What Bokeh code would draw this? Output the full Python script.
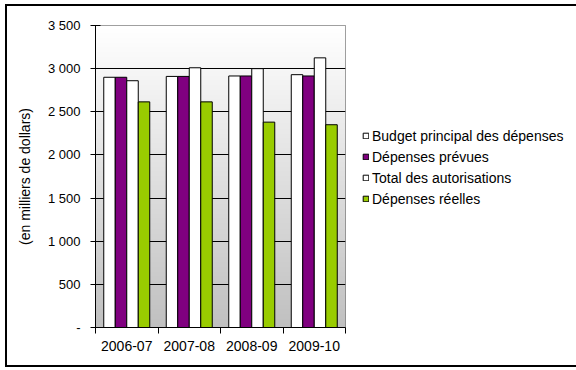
import numpy as np
from bokeh.plotting import figure
from bokeh.models import Range1d, FixedTicker, Legend, LegendItem, ColumnDataSource
from bokeh.transform import dodge
from bokeh.embed import file_html
from bokeh.resources import INLINE

categories = ["2006-07", "2007-08", "2008-09", "2009-10"]
budget_principal = [2900, 2910, 2915, 2930]
depenses_prevues = [2900, 2910, 2915, 2915]
total_autorisations = [2860, 3010, 3000, 3125]
depenses_reelles = [2615, 2615, 2380, 2350]
series_names = ["Budget principal des dépenses", "Dépenses prévues",
                "Total des autorisations", "Dépenses réelles"]
series_colors = ["#FFFFFF", "#800080", "#FFFFFF", "#99CC00"]
y_ticks = [0, 500, 1000, 1500, 2000, 2500, 3000, 3500]
y_tick_labels = ["-", "500", "1 000", "1 500", "2 000", "2 500", "3 000", "3 500"]
y_label = "(en milliers de dollars)"

FONT = "Liberation Sans"

x_centers = [i + 0.5 for i in range(len(categories))]
source = ColumnDataSource(dict(
    x=x_centers,
    s0=budget_principal,
    s1=depenses_prevues,
    s2=total_autorisations,
    s3=depenses_reelles,
))

p = figure(width=570, height=363, output_backend="svg", toolbar_location=None,
           x_range=Range1d(0, len(categories)), y_range=Range1d(0, 3500),
           min_border_left=90, min_border_top=21, min_border_right=230,
           min_border_bottom=40)
p.frame_width = 250
p.frame_height = 302
p.border_fill_color = None
p.background_fill_color = None
p.outline_line_color = "#808080"
p.outline_line_width = 1
p.styles = {"margin-left": "5px", "margin-top": "4px",
            "outline": "2px solid black", "outline-offset": "-2px"}

# gradient background of the plot area
n = 256
t = np.linspace(0.0, 1.0, n)
g = np.round(192 + (255 - 192) * t).astype(np.uint8)
img = np.empty((n, 1), dtype=np.uint32)
view = img.view(dtype=np.uint8).reshape((n, 1, 4))
view[:, 0, 0] = g
view[:, 0, 1] = g
view[:, 0, 2] = g
view[:, 0, 3] = 255
p.image_rgba(image=[img], x=0, y=0, dw=len(categories), dh=3500, level="image")

# bars
w = 0.184
offsets = [-1.5 * w, -0.5 * w, 0.5 * w, 1.5 * w]
items = []
for i, (name, col) in enumerate(zip(series_names, series_colors)):
    r = p.vbar(x=dodge("x", offsets[i]), top="s%d" % i, width=w, source=source,
               fill_color=col, line_color="black", line_width=1)
    items.append(LegendItem(label=name, renderers=[r]))

legend = Legend(items=items, location=(17, 118), orientation="vertical")
legend.background_fill_color = None
legend.border_line_color = None
legend.padding = 0
legend.margin = 0
legend.spacing = 0
legend.glyph_width = 7
legend.glyph_height = 7
legend.label_height = 21
legend.label_standoff = 3
legend.label_text_font = FONT
legend.label_text_font_size = "14px"
legend.label_text_color = "black"
p.add_layout(legend, "right")

# y axis
p.yaxis.ticker = FixedTicker(ticks=y_ticks)
p.yaxis.major_label_overrides = {v: s for v, s in zip(y_ticks, y_tick_labels)}
p.yaxis.major_tick_in = 5
p.yaxis.major_tick_out = 5
p.yaxis.minor_tick_line_color = None
p.yaxis.axis_line_color = "black"
p.yaxis.major_tick_line_color = "black"
p.yaxis.major_label_standoff = 10
p.yaxis.major_label_text_font = FONT
p.yaxis.major_label_text_font_size = "13px"
p.yaxis.major_label_text_color = "black"
p.yaxis.axis_label = y_label
p.yaxis.axis_label_text_font = FONT
p.yaxis.axis_label_text_font_size = "14px"
p.yaxis.axis_label_text_font_style = "normal"
p.yaxis.axis_label_text_color = "black"
p.yaxis.axis_label_standoff = 12

# x axis
p.xaxis.ticker = FixedTicker(ticks=x_centers,
                             minor_ticks=[float(i) for i in range(len(categories) + 1)])
p.xaxis.major_label_overrides = {c: lab for c, lab in zip(x_centers, categories)}
p.xaxis.major_tick_line_color = None
p.xaxis.major_tick_in = 0
p.xaxis.major_tick_out = 0
p.xaxis.minor_tick_line_color = "black"
p.xaxis.minor_tick_in = 0
p.xaxis.minor_tick_out = 6
p.xaxis.axis_line_color = "black"
p.xaxis.major_label_standoff = 7
p.xaxis.major_label_text_font = FONT
p.xaxis.major_label_text_font_size = "14px"
p.xaxis.major_label_text_color = "black"

# grid
p.xgrid.grid_line_color = None
p.ygrid.ticker = FixedTicker(ticks=y_ticks[1:-1])
p.ygrid.grid_line_color = "black"
p.ygrid.grid_line_width = 1

open("out.html", "w").write(file_html(p, INLINE))
